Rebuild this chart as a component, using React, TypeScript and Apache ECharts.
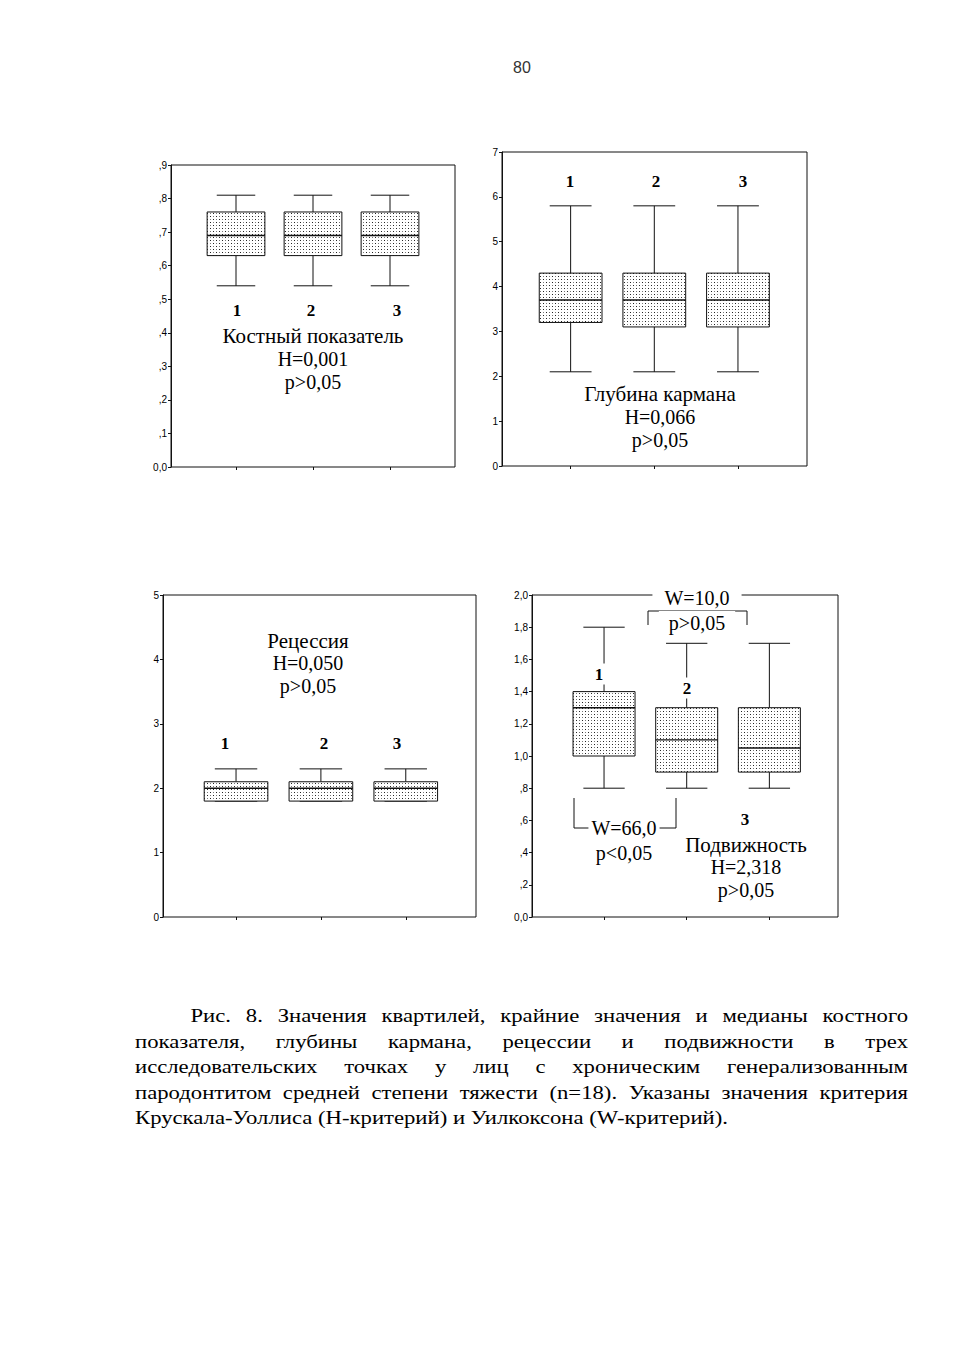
import React, { useEffect, useRef } from "react";
import * as echarts from "echarts";

// ---- Data ----
const categories = ["1", "2", "3"];
// each row: [min, Q1, median, Q3, max]
const boneIndex = [
  [0.54, 0.63, 0.69, 0.76, 0.81],
  [0.54, 0.63, 0.69, 0.76, 0.81],
  [0.54, 0.63, 0.69, 0.76, 0.81],
];
const pocketDepth = [
  [2.1, 3.2, 3.7, 4.3, 5.8],
  [2.1, 3.1, 3.7, 4.3, 5.8],
  [2.1, 3.1, 3.7, 4.3, 5.8],
];
const recession = [
  [1.8, 1.8, 2.0, 2.1, 2.3],
  [1.8, 1.8, 2.0, 2.1, 2.3],
  [1.8, 1.8, 2.0, 2.1, 2.3],
];
const mobility = [
  [0.8, 1.0, 1.3, 1.4, 1.8],
  [0.8, 0.9, 1.1, 1.3, 1.7],
  [0.8, 0.9, 1.05, 1.3, 1.7],
];
const boneTicks = ["0,0", ",1", ",2", ",3", ",4", ",5", ",6", ",7", ",8", ",9"];
const depthTicks = ["0", "1", "2", "3", "4", "5", "6", "7"];
const recessionTicks = ["0", "1", "2", "3", "4", "5"];
const mobilityTicks = ["0,0", ",2", ",4", ",6", ",8", "1,0", "1,2", "1,4", "1,6", "1,8", "2,0"];

const captionLines = [
  "Рис. 8. Значения квартилей, крайние значения и медианы костного",
  "показателя, глубины кармана, рецессии и подвижности в трех",
  "исследовательских точках у лиц с хроническим генерализованным",
  "пародонтитом средней степени тяжести (n=18). Указаны значения критерия",
  "Крускала-Уоллиса (Н-критерий) и Уилкоксона (W-критерий).",
];

const SERIF = '"Liberation Serif", "Times New Roman", serif';
const SANS = '"Liberation Sans", Arial, sans-serif';

function makePattern() {
  const c = document.createElement("canvas");
  c.width = 6;
  c.height = 6;
  const ctx = c.getContext("2d")!;
  ctx.fillStyle = "#ffffff";
  ctx.fillRect(0, 0, 6, 6);
  ctx.fillStyle = "#222222";
  ctx.fillRect(0, 0, 1, 1);
  ctx.fillRect(3, 3, 1, 1);
  ctx.fillStyle = "#7a7a7a";
  ctx.fillRect(3, 0, 1, 1);
  ctx.fillRect(0, 3, 1, 1);
  return { image: c, repeat: "repeat", imageWidth: 6, imageHeight: 6 } as any;
}

function boxSeries(axisIndex: number, values: number[][], fill: any) {
  return {
    type: "custom",
    xAxisIndex: axisIndex,
    yAxisIndex: axisIndex,
    data: values.map((v, i) => [i, ...v]),
    encode: { x: 0, y: [1, 2, 3, 4, 5] },
    renderItem: (params: any, api: any) => {
      const idx = api.value(0);
      const pLo = api.coord([idx, api.value(1)]);
      const pQ1 = api.coord([idx, api.value(2)]);
      const pMed = api.coord([idx, api.value(3)]);
      const pQ3 = api.coord([idx, api.value(4)]);
      const pHi = api.coord([idx, api.value(5)]);
      const band = api.size([1, 0])[0];
      const bw = band * 0.75;
      const cw = band * 0.5;
      const cx = pMed[0];
      const line = (x1: number, y1: number, x2: number, y2: number, w = 1) => ({
        type: "line",
        shape: { x1, y1, x2, y2 },
        style: { stroke: "#111", lineWidth: w },
      });
      return {
        type: "group",
        children: [
          line(cx, pHi[1], cx, pQ3[1]),
          line(cx, pQ1[1], cx, pLo[1]),
          line(cx - cw / 2, pHi[1], cx + cw / 2, pHi[1]),
          line(cx - cw / 2, pLo[1], cx + cw / 2, pLo[1]),
          {
            type: "rect",
            shape: { x: cx - bw / 2, y: pQ3[1], width: bw, height: pQ1[1] - pQ3[1] },
            style: { fill, stroke: "#111", lineWidth: 1 },
          },
          line(cx - bw / 2, pMed[1], cx + bw / 2, pMed[1], 1.4),
        ],
      };
    },
  };
}

type Panel = {
  frame: [number, number, number, number]; // left, top, width, height
  data: [number, number]; // left, width of category band area
  max: number;
  interval: number;
  ticks: string[];
  values: number[][];
};

const panels: Panel[] = [
  { frame: [171, 165, 284, 302], data: [197.5, 231], max: 0.9, interval: 0.1, ticks: boneTicks, values: boneIndex },
  { frame: [502, 152, 305, 314], data: [528.8, 251], max: 7, interval: 1, ticks: depthTicks, values: pocketDepth },
  { frame: [163, 595, 313, 322], data: [193.6, 254.6], max: 5, interval: 1, ticks: recessionTicks, values: recession },
  { frame: [532, 595, 306, 322], data: [562.7, 248], max: 2, interval: 0.2, ticks: mobilityTicks, values: mobility },
];

function txt(text: string, x: number, y: number, size: number, opts: any = {}) {
  return {
    type: "text",
    x,
    y,
    z: 100,
    style: {
      text,
      fill: opts.fill || "#000",
      font: `${opts.bold ? "bold " : ""}${size}px ${opts.family || SERIF}`,
      textAlign: "center",
      textVerticalAlign: "middle",
      backgroundColor: opts.bg,
      padding: opts.padding,
    },
  };
}

function poly(points: number[][]) {
  return {
    type: "polyline",
    z: 50,
    shape: { points },
    style: { stroke: "#111", lineWidth: 1, fill: null },
  };
}

const WORD = 21; // size of the Cyrillic captions inside the panels
const STAT = 20; // size of the statistics lines

export default function App() {
  const ref = useRef<HTMLDivElement>(null);
  useEffect(() => {
    if (!ref.current) return;
    const chart = echarts.init(ref.current, undefined, { renderer: "svg" });
    const fill = makePattern();
    const grid: any[] = [];
    const xAxis: any[] = [];
    const yAxis: any[] = [];
    const series: any[] = [];
    panels.forEach((p, i) => {
      const [l, t, w, h] = p.frame;
      grid.push({ left: l, top: t, width: w, height: h, show: true, borderColor: "#111", borderWidth: 1, backgroundColor: "transparent" });
      grid.push({ left: p.data[0], top: t, width: p.data[1], height: h });
      const fi = i * 2;
      const di = i * 2 + 1;
      xAxis.push({ type: "value", gridIndex: fi, min: 0, max: 1, show: false });
      xAxis.push({
        type: "category",
        gridIndex: di,
        data: categories,
        axisLine: { show: false },
        axisTick: { show: true, alignWithLabel: true, length: 3, lineStyle: { color: "#111" } },
        axisLabel: { show: false },
        splitLine: { show: false },
      });
      yAxis.push({
        type: "value",
        gridIndex: fi,
        min: 0,
        max: p.max,
        interval: p.interval,
        axisLine: { show: true, lineStyle: { color: "#111" } },
        axisTick: { show: true, length: 3, inside: false, lineStyle: { color: "#111" } },
        splitLine: { show: false },
        axisLabel: {
          margin: 4,
          fontSize: 10,
          fontFamily: SANS,
          color: "#000",
          formatter: (v: number) => p.ticks[Math.round(v / p.interval)] ?? "",
        },
      });
      yAxis.push({ type: "value", gridIndex: di, min: 0, max: p.max, show: false, splitLine: { show: false } });
      series.push(boxSeries(di, p.values, fill));
    });

    const graphics: any[] = [
      txt("80", 522, 67, 16, { family: SANS, fill: "#333" }),
      // Panel A
      txt("1", 237, 310, 17, { bold: true }),
      txt("2", 311, 310, 17, { bold: true }),
      txt("3", 397, 310, 17, { bold: true }),
      txt("Костный показатель", 313, 336, WORD),
      txt("H=0,001", 313, 359, STAT),
      txt("p>0,05", 313, 382, STAT),
      // Panel B
      txt("1", 570, 181, 17, { bold: true }),
      txt("2", 656, 181, 17, { bold: true }),
      txt("3", 743, 181, 17, { bold: true }),
      txt("Глубина кармана", 660, 394, WORD),
      txt("H=0,066", 660, 417, STAT),
      txt("p>0,05", 660, 440, STAT),
      // Panel C
      txt("1", 225, 743, 17, { bold: true }),
      txt("2", 324, 743, 17, { bold: true }),
      txt("3", 397, 743, 17, { bold: true }),
      txt("Рецессия", 308, 641, WORD),
      txt("H=0,050", 308, 663, STAT),
      txt("p>0,05", 308, 686, STAT),
      // Panel D
      txt("1", 599, 674, 17, { bold: true, bg: "#fff", padding: [2, 3] }),
      txt("2", 687, 688, 17, { bold: true, bg: "#fff", padding: [2, 3] }),
      txt("3", 745, 819, 17, { bold: true }),
      poly([[648, 625], [648, 611], [747, 611], [747, 625]]),
      txt("W=10,0", 697, 598, STAT, { bg: "#fff", padding: [2, 12] }),
      txt("p>0,05", 697, 623, STAT, { bg: "#fff", padding: [2, 10] }),
      poly([[574, 798], [574, 828], [676, 828], [676, 798]]),
      txt("W=66,0", 624, 828, STAT, { bg: "#fff", padding: [2, 3] }),
      txt("p<0,05", 624, 853, STAT),
      txt("Подвижность", 746, 845, WORD),
      txt("H=2,318", 746, 867, STAT),
      txt("p>0,05", 746, 890, STAT),
    ];

    chart.setOption({
      animation: false,
      backgroundColor: "#fff",
      grid,
      xAxis,
      yAxis,
      series,
      graphic: { elements: graphics },
    });
    return () => chart.dispose();
  }, []);

  return (
    <div style={{ position: "absolute", left: 0, top: 0, width: 953, height: 1350, background: "#fff" }}>
      <div ref={ref} style={{ position: "absolute", left: 0, top: 0, width: 953, height: 990 }} />
      <div
        style={{
          position: "absolute",
          left: 135,
          top: 1004,
          width: 613,
          transform: "scaleX(1.261)",
          transformOrigin: "0 0",
          fontFamily: SERIF,
          fontSize: 18,
          lineHeight: "25.5px",
          color: "#000",
        }}
      >
        {captionLines.map((line, i) => (
          <div
            key={i}
            style={{
              textAlign: "justify",
              textAlignLast: i < captionLines.length - 1 ? "justify" : "left",
              textIndent: i === 0 ? 44 : 0,
            }}
          >
            {line}
          </div>
        ))}
      </div>
    </div>
  );
}
